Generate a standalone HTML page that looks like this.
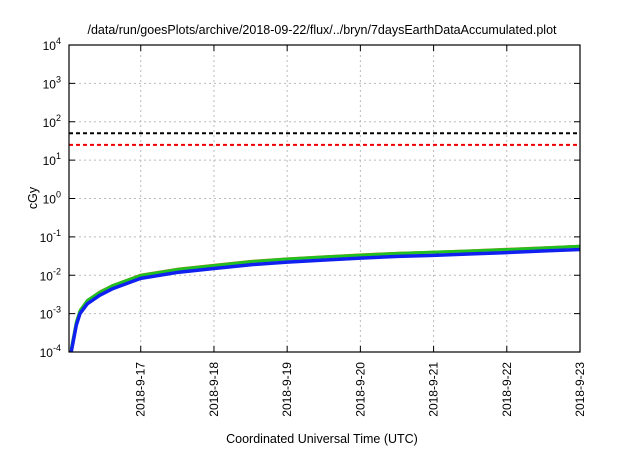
<!DOCTYPE html>
<html><head><meta charset="utf-8"><style>
body{margin:0;background:#fff}
svg text{font-family:"Liberation Sans",sans-serif;fill:#000}
</style></head><body>
<svg width="640" height="448" id="svg" xmlns="http://www.w3.org/2000/svg">
<text x="322" y="34" font-size="12.5" text-anchor="middle">/data/run/goesPlots/archive/2018-09-22/flux/../bryn/7daysEarthDataAccumulated.plot</text>
<text x="322" y="443" font-size="12.5" text-anchor="middle">Coordinated Universal Time (UTC)</text>
<text x="33" y="202" font-size="12.5" text-anchor="middle" transform="rotate(-90 33 198)">cGy</text>
<g id="grid"></g><g id="series"></g><g id="axes"></g>
</svg>
<script>
const xTickLabels=["2018-9-17","2018-9-18","2018-9-19","2018-9-20","2018-9-21","2018-9-22","2018-9-23"];
const xTickDays=[0.98,1.98,2.98,3.98,4.98,5.98,6.98];
const yTickExps=[-4,-3,-2,-1,0,1,2,3,4];
const thresholdBlack=50;
const thresholdRed=25;
const tDays=[0.03,0.1,0.15,0.25,0.42,0.6,0.98,1.5,1.98,2.5,2.98,3.5,3.98,4.5,4.98,5.5,5.98,6.5,6.98];
const blueVals=[0.0001,0.0005,0.001,0.0018,0.003,0.0045,0.0083,0.012,0.015,0.019,0.022,0.025,0.028,0.031,0.033,0.036,0.039,0.043,0.047];
const greenVals=[0.00012,0.0006,0.0012,0.0022,0.0036,0.0054,0.0099,0.0144,0.018,0.0228,0.0265,0.030,0.0336,0.0372,0.040,0.0432,0.0468,0.0516,0.057];
const orangeVals=[0.000125,0.00063,0.00125,0.00225,0.0038,0.0056,0.0104,0.015,0.0188,0.0238,0.0275,0.0312,0.035,0.0388,0.0412,0.045,0.0488,0.0538,0.059];
const X0=69,X1=580,Y0=45,Y1=352,DAYS=6.98;
const xs=t=>X0+t/DAYS*(X1-X0);
const ys=v=>Y0+(4-Math.log10(v))*(Y1-Y0)/8;
const NS="http://www.w3.org/2000/svg";
function mk(tag,parent,attrs){const e=document.createElementNS(NS,tag);for(const k in attrs)e.setAttribute(k,attrs[k]);parent.appendChild(e);return e;}
const grid=document.getElementById('grid'),axes=document.getElementById('axes'),ser=document.getElementById('series');
yTickExps.forEach(p=>{const y=ys(Math.pow(10,p));
 if(p>-4&&p<4){const l=mk('line',grid,{x1:X0,x2:X1,y1:y,y2:y,stroke:'#bbb','stroke-dasharray':'2,3','stroke-width':1});
 
 }
 mk('line',axes,{x1:X0,x2:X0+6,y1:y,y2:y,stroke:'#000'});mk('line',axes,{x1:X1-6,x2:X1,y1:y,y2:y,stroke:'#000'});
 const t=mk('text',axes,{x:X0-8,y:y+5,'font-size':12,'text-anchor':'end'});
 
 
 t.innerHTML='10<tspan dy="-6" font-size="9">'+p+'</tspan>';});
xTickDays.forEach((d,i)=>{const x=xs(d);
 if(i<xTickDays.length-1){const l=mk('line',grid,{x1:x,x2:x,y1:Y0,y2:Y1,stroke:'#bbb','stroke-dasharray':'2,3'});
 
 }
 mk('line',axes,{x1:x,x2:x,y1:Y1,y2:Y1-6,stroke:'#000'});mk('line',axes,{x1:x,x2:x,y1:Y0,y2:Y0+6,stroke:'#000'});
 const t=mk('text',axes,{x:x+4,y:Y1+10,'font-size':12,'text-anchor':'end',transform:`rotate(-90 ${x+4} ${Y1+10})`});
 
 
 t.textContent=xTickLabels[i];});
const fr=mk('rect',axes,{x:X0,y:Y0,width:X1-X0,height:Y1-Y0,fill:'none',stroke:'#000','stroke-width':1.2});


[[thresholdBlack,'#000','threshold-black'],[thresholdRed,'#e00','threshold-red']].forEach(([v,c,n])=>{
 const l=mk('line',ser,{x1:X0,x2:X1,y1:ys(v),y2:ys(v),stroke:c,'stroke-width':2,'stroke-dasharray':'4,3'});
 
 });
[[orangeVals,'#e07020',2,'series-orange'],[greenVals,'#20c020',3,'series-green'],[blueVals,'#1020f0',3.5,'series-blue']].forEach(([vals,c,w,n])=>{
 const d=vals.map((v,i)=>(i?'L':'M')+xs(tDays[i]).toFixed(1)+','+ys(v).toFixed(1)).join('');
 const p=mk('path',ser,{d:d,fill:'none',stroke:c,'stroke-width':w,'stroke-linejoin':'round'});
 
 });
</script>
</body></html>
